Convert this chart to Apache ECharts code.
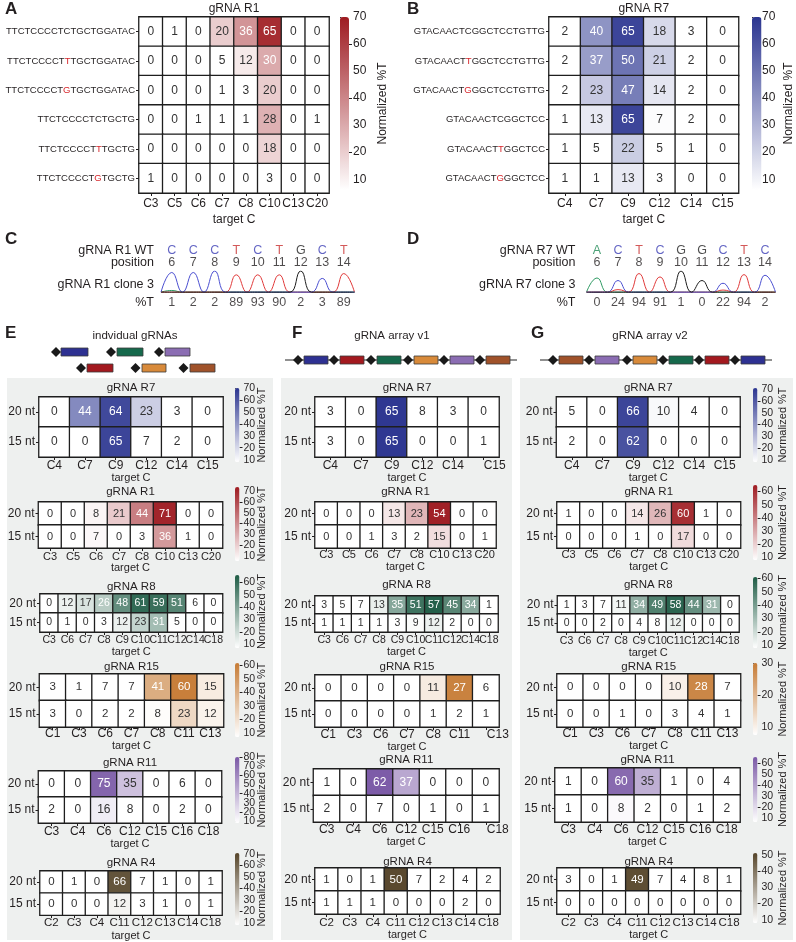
<!DOCTYPE html>
<html>
<head>
<meta charset="utf-8">
<title>gRNA editing heatmaps</title>
<script src="https://cdn.jsdelivr.net/npm/echarts@6.0.0/dist/echarts.min.js"></script>
<style>
html, body { margin: 0; padding: 0; background: #fff; }
#chart { width: 796px; height: 942px; }
</style>
</head>
<body>
<div id="chart"></div>
<script>
var FONT = '"Liberation Sans", Arial, Helvetica, sans-serif';
var INK = '#231f20';

// ---------- data ----------
var colsR1 = ['C3', 'C5', 'C6', 'C7', 'C8', 'C10', 'C13', 'C20'];
var colsR7 = ['C4', 'C7', 'C9', 'C12', 'C14', 'C15'];
var colsR8 = ['C3', 'C6', 'C7', 'C8', 'C9', 'C10', 'C11', 'C12', 'C14', 'C18'];
var colsR15 = ['C1', 'C3', 'C6', 'C7', 'C8', 'C11', 'C13'];
var colsR11 = ['C3', 'C4', 'C6', 'C12', 'C15', 'C16', 'C18'];
var colsR4 = ['C2', 'C3', 'C4', 'C11', 'C12', 'C13', 'C14', 'C18'];
var ntRows = ['20 nt', '15 nt'];

// [X] marks the mismatched base (drawn red)
var seqsR1 = ['TTCTCCCCTCTGCTGGATAC', 'TTCTCCCCT[T]TGCTGGATAC', 'TTCTCCCCT[G]TGCTGGATAC',
              'TTCTCCCCTCTGCTG', 'TTCTCCCCT[T]TGCTG', 'TTCTCCCCT[G]TGCTG'];
var valsA = [[0, 1, 0, 20, 36, 65, 0, 0], [0, 0, 0, 5, 12, 30, 0, 0], [0, 0, 0, 1, 3, 20, 0, 0],
             [0, 0, 1, 1, 1, 28, 0, 1], [0, 0, 0, 0, 0, 18, 0, 0], [1, 0, 0, 0, 0, 3, 0, 0]];
var seqsR7 = ['GTACAACTCGGCTCCTGTTG', 'GTACAACT[T]GGCTCCTGTTG', 'GTACAACT[G]GGCTCCTGTTG',
              'GTACAACTCGGCTCC', 'GTACAACT[T]GGCTCC', 'GTACAACT[G]GGCTCC'];
var valsB = [[2, 40, 65, 18, 3, 0], [2, 37, 50, 21, 2, 0], [2, 23, 47, 14, 2, 0],
             [1, 13, 65, 7, 2, 0], [1, 5, 22, 5, 1, 0], [1, 1, 13, 3, 0, 0]];

// Sanger traces (C, D)
var positions = [6, 7, 8, 9, 10, 11, 12, 13, 14];
var wtR1 = ['C', 'C', 'C', 'T', 'C', 'T', 'G', 'C', 'T'];
var pctR1 = [1, 2, 2, 89, 93, 90, 2, 3, 89];
var wtR7 = ['A', 'C', 'T', 'C', 'G', 'G', 'C', 'T', 'C'];
var pctR7 = [0, 24, 94, 91, 1, 0, 22, 94, 2];
var traceR1A = [0.08, 0, 0, 0, 0, 0, 0, 0, 0];
var traceR1C = [0.93, 0.93, 1.0, 0, 0, 0, 0, 0.65, 0];
var traceR1G = [0, 0, 0, 0, 0, 0, 1.0, 0, 0];
var traceR1T = [0, 0, 0, 0.82, 0.82, 0.82, 0, 0, 0.88];
var traceR7A = [0.67, 0, 0, 0, 0, 0, 0, 0, 0];
var traceR7C = [0, 0.55, 0, 0, 0, 0, 0.42, 0, 0.8];
var traceR7G = [0, 0, 0, 0, 1.0, 0.55, 0, 0, 0];
var traceR7T = [0, 0.12, 0.88, 0.72, 0, 0, 0.1, 0.83, 0];

// E: individual gRNAs
var eR7 = [[0, 44, 64, 23, 3, 0], [0, 0, 65, 7, 2, 0]];
var eR1 = [[0, 0, 8, 21, 44, 71, 0, 0], [0, 0, 7, 0, 3, 36, 1, 0]];
var eR8 = [[0, 12, 17, 26, 48, 61, 59, 51, 6, 0], [0, 1, 0, 3, 12, 23, 31, 5, 0, 0]];
var eR15 = [[3, 1, 7, 7, 41, 60, 15], [3, 0, 2, 2, 8, 23, 12]];
var eR11 = [[0, 0, 75, 35, 0, 6, 0], [2, 0, 16, 8, 0, 2, 0]];
var eR4 = [[0, 1, 0, 66, 7, 1, 0, 1], [0, 0, 0, 12, 3, 1, 0, 1]];
// F: array v1
var fR7 = [[3, 0, 65, 8, 3, 0], [3, 0, 65, 0, 0, 1]];
var fR1 = [[0, 0, 0, 13, 23, 54, 0, 0], [0, 0, 1, 3, 2, 15, 0, 1]];
var fR8 = [[3, 5, 7, 13, 35, 51, 57, 45, 34, 1], [1, 1, 1, 1, 3, 9, 12, 2, 0, 0]];
var fR15 = [[0, 0, 0, 0, 11, 27, 6], [0, 0, 0, 0, 1, 2, 1]];
var fR11 = [[1, 0, 62, 37, 0, 0, 0], [2, 0, 7, 0, 1, 0, 1]];
var fR4 = [[1, 0, 1, 50, 7, 2, 4, 2], [1, 1, 1, 0, 0, 0, 2, 0]];
// G: array v2
var gR7 = [[5, 0, 66, 10, 4, 0], [2, 0, 62, 0, 0, 0]];
var gR1 = [[1, 0, 0, 14, 26, 60, 1, 0], [0, 0, 0, 1, 0, 17, 0, 0]];
var gR8 = [[1, 3, 7, 11, 34, 49, 58, 44, 31, 0], [0, 0, 2, 0, 4, 8, 12, 0, 0, 0]];
var gR15 = [[0, 0, 0, 0, 10, 28, 7], [0, 0, 1, 0, 3, 4, 1]];
var gR11 = [[1, 0, 60, 35, 1, 0, 4], [1, 0, 8, 2, 0, 1, 2]];
var gR4 = [[3, 0, 1, 49, 7, 4, 8, 1], [0, 0, 0, 0, 0, 0, 0, 0]];

var ticks30 = [10, 20, 30];
var ticks50 = [10, 20, 30, 40, 50];
var ticks60 = [10, 20, 30, 40, 50, 60];
var ticks70 = [10, 20, 30, 40, 50, 60, 70];
var ticks80 = [10, 20, 30, 40, 50, 60, 70, 80];

// ---------- styling ----------
var COL = { R7: '#2b3590', R1: '#9e1b21', R8: '#1e5c45', R15: '#c67b35', R11: '#7b59a6', R4: '#56452a' };
var THR = { R7: 0.35, R1: 0.36, R8: 0.3, R15: 0.4, R11: 0.5, R4: 0.4 };
var BOX = { R7: '#2e3192', R1: '#a3191f', R8: '#16694c', R15: '#d88a3a', R11: '#8b6db3', R4: '#a0522a' };
var BASE = { A: '#2f9a63', C: '#4b4fd0', G: '#1c1c1c', T: '#e03a3a' };
var LETTER = { A: '#1f8a55', C: '#3c3fb5', G: '#222222', T: '#c8302f' };

var grids = [], xAxes = [], yAxes = [], series = [], visualMaps = [], graphics = [];

function txt(x, y, s, size, opt) {
    opt = opt || {};
    graphics.push({
        type: 'text', x: x, y: y, z: 10, silent: true,
        style: { text: s, font: (opt.bold ? 'bold ' : '') + size + 'px ' + FONT,
                 fill: opt.color || INK, textAlign: opt.align || 'center', textVerticalAlign: 'middle' }
    });
}

function seqLabel(v) {
    return v.replace(/\[(\w)\]/, '{r|$1}');
}

// colour-bar tick axis; labels split over two axes so tight ticks are not dropped
function barAxis(gi, o, b, ticks) {
    yAxes.push({
        type: 'value', gridIndex: gi, position: 'right', offset: 0, min: o.min, max: o.max,
        axisLine: { show: false }, splitLine: { show: false },
        axisTick: { show: true, inside: false, length: 3, customValues: ticks, lineStyle: { color: INK } },
        axisLabel: { customValues: ticks, fontSize: b.fs, color: INK, margin: 4, fontFamily: FONT }
    });
}

function heat(o) {
    var gi = grids.length, xi = xAxes.length, yi = yAxes.length;
    var last = o.cols.length - 1;
    grids.push({ left: o.x, top: o.y, width: o.w, height: o.h });
    xAxes.push({
        type: 'category', gridIndex: gi, data: o.cols,
        axisLine: { show: false }, splitLine: { show: false },
        axisTick: { show: true, length: 3, alignWithLabel: true, lineStyle: { color: INK } },
        axisLabel: { interval: 0, fontSize: o.xfs || 12, color: INK, margin: o.lm, fontFamily: FONT,
                     formatter: function (v, i) { return (o.shift && i === last) ? '{s|' + v + '}' : v; },
                     rich: { s: { padding: [0, 0, 0, 2 * (o.shift || 0)], fontSize: o.xfs || 12,
                                  color: INK, fontFamily: FONT } } },
        name: 'target C', nameLocation: 'middle', nameGap: o.ng,
        nameTextStyle: { fontSize: o.nfs || 11, color: INK, fontFamily: FONT }
    });
    yAxes.push({
        type: 'category', gridIndex: gi, data: o.rows, inverse: true,
        axisLine: { show: false }, splitLine: { show: false },
        axisTick: { show: true, length: 3, alignWithLabel: true, lineStyle: { color: INK } },
        axisLabel: { interval: 0, fontSize: o.yfs || 12, color: INK, margin: 4, fontFamily: FONT,
                     formatter: seqLabel,
                     rich: { r: { color: '#d7262b', fontSize: o.yfs || 12, fontFamily: FONT } } }
    });
    var data = [];
    o.vals.forEach(function (row, r) {
        row.forEach(function (v, c) {
            var t = (v - o.min) / (o.max - o.min);
            data.push({ value: [c, r, v], label: { color: t > o.thr ? '#ffffff' : '#333333' } });
        });
    });
    var si = series.length;
    series.push({
        type: 'heatmap', xAxisIndex: xi, yAxisIndex: yi, data: data, silent: true,
        label: { show: true, fontSize: o.cfs || 12, fontFamily: FONT,
                 formatter: function (p) { return p.value[2]; } },
        itemStyle: { borderColor: '#1e1e1e', borderWidth: 1.3 },
        emphasis: { disabled: true }
    });
    var vm = {
        type: 'continuous', seriesIndex: si, dimension: 2, min: o.min, max: o.max,
        inRange: { color: ['#ffffff', o.color] }, outOfRange: { color: ['#ffffff'] },
        calculable: false, hoverLink: false, show: false
    };
    if (o.bar) {
        var b = o.bar;
        vm.show = true; vm.left = b.x; vm.top = b.y;
        vm.itemWidth = b.w; vm.itemHeight = b.h; vm.padding = 0;
        var bi = grids.length;
        grids.push({ left: b.x, top: b.y, width: b.w, height: b.h });
        xAxes.push({ type: 'value', gridIndex: bi, show: false, min: 0, max: 1 });
        barAxis(bi, o, b, b.ticks.filter(function (t, i) { return i % 2 === 0; }));
        barAxis(bi, o, b, b.ticks.filter(function (t, i) { return i % 2 === 1; }));
        // title of the colour bar
        yAxes.push({
            type: 'value', gridIndex: bi, position: 'right', offset: 0, min: o.min, max: o.max,
            axisLine: { show: false }, splitLine: { show: false },
            axisTick: { show: false }, axisLabel: { show: false },
            name: 'Normalized %T', nameLocation: 'middle', nameRotate: 90, nameGap: b.ng,
            nameTextStyle: { fontSize: b.nfs, color: INK, fontFamily: FONT }
        });
    }
    visualMaps.push(vm);
    txt(o.x + o.w / 2, o.ty, o.title, o.tfs || 11.5);
}

function traceData(h) {
    var d = [];
    positions.forEach(function (p, i) {
        d.push([p - 0.5, 0], [p, h[i]], [p + 0.5, 0]);
    });
    return d;
}

// rows of the text grid (value axis, inverse): WT bases, positions, %T
var ROW_WT = 0.6, ROW_POS = 1.7, ROW_PCT = 5.3;

function chromPanel(o) {
    var gi = grids.length, xi = xAxes.length, yi = yAxes.length;
    grids.push({ left: o.x, top: 244, width: o.w, height: 66 });
    xAxes.push({ type: 'value', gridIndex: gi, min: 5.5, max: 14.5, show: false });
    yAxes.push({ type: 'value', gridIndex: gi, min: 0, max: 6, inverse: true, show: false });
    var rowData = [];
    positions.forEach(function (p, i) {
        rowData.push({ value: [p, ROW_WT], name: o.wt[i], label: { color: LETTER[o.wt[i]] } });
        rowData.push({ value: [p, ROW_POS], name: String(p) });
        rowData.push({ value: [p, ROW_PCT], name: String(o.pct[i]) });
    });
    series.push({
        type: 'scatter', xAxisIndex: xi, yAxisIndex: yi, symbolSize: 1, silent: true,
        itemStyle: { color: 'rgba(0,0,0,0)' }, data: rowData,
        label: { show: true, position: 'inside', fontSize: 12.5, color: INK, fontFamily: FONT,
                 formatter: function (p) { return p.name; } }
    });
    var ci = grids.length, cxi = xAxes.length, cyi = yAxes.length;
    grids.push({ left: o.x, top: 271, width: o.w, height: 22 });
    xAxes.push({ type: 'value', gridIndex: ci, min: 5.5, max: 14.5, show: false });
    yAxes.push({ type: 'value', gridIndex: ci, min: -0.04, max: 1.0, show: false });
    ['A', 'T', 'C', 'G'].forEach(function (base) {
        series.push({
            type: 'line', xAxisIndex: cxi, yAxisIndex: cyi, data: traceData(o.traces[base]),
            smooth: 0.5, symbol: 'none', silent: true, clip: true,
            lineStyle: { color: BASE[base], width: 1 }
        });
    });
    // row captions
    var rx = o.x - o.lm;
    txt(rx, 250.6, o.names[0], 12.5, { align: 'right' });
    txt(rx, 262.7, o.names[1], 12.5, { align: 'right' });
    txt(rx, 284.7, o.names[2], 12.5, { align: 'right' });
    txt(rx, 302.3, o.names[3], 12.5, { align: 'right' });
}

// ---------- backgrounds and schematics ----------
function bgRect(x, w) {
    graphics.push({ type: 'rect', z: -10, silent: true, shape: { x: x, y: 378, width: w, height: 562 },
                    style: { fill: '#eef0ef' } });
}
function diamond(cx, cy) {
    graphics.push({ type: 'polygon', z: 6, silent: true,
                    shape: { points: [[cx - 5, cy], [cx, cy - 5], [cx + 5, cy], [cx, cy + 5]] },
                    style: { fill: '#1a1a1a' } });
}
function box(x, cy, w, fill) {
    graphics.push({ type: 'rect', z: 5, silent: true, shape: { x: x, y: cy - 4, width: w, height: 8 },
                    style: { fill: fill, stroke: '#3a3a3a', lineWidth: 0.8 } });
}
function hline(x1, x2, y) {
    graphics.push({ type: 'line', z: 4, silent: true, shape: { x1: x1, y1: y, x2: x2, y2: y },
                    style: { stroke: '#222', lineWidth: 1 } });
}

bgRect(7, 266);
bgRect(281, 231);
bgRect(520, 273);

// individual gRNAs
[[56, 61, 27, 'R7', 352], [111, 117, 26, 'R8', 352], [159, 165, 25, 'R11', 352],
 [81, 87, 26, 'R1', 368], [135.5, 142, 24, 'R15', 368], [183.5, 190, 25, 'R4', 368]].forEach(function (d) {
    diamond(d[0], d[4]);
    box(d[1], d[4], d[2], BOX[d[3]]);
});
// array v1
hline(285, 517, 360);
var v1Order = ['R7', 'R1', 'R8', 'R15', 'R11', 'R4'];
[298, 334, 371, 408, 444, 480].forEach(function (x, i) {
    diamond(x, 360);
    box(x + 6, 360, 24, BOX[v1Order[i]]);
});
// array v2
hline(540, 772, 360);
var v2Order = ['R4', 'R11', 'R15', 'R8', 'R1', 'R7'];
[553, 589, 627, 663, 699, 735].forEach(function (x, i) {
    diamond(x, 360);
    box(x + 6, 360, 24, BOX[v2Order[i]]);
});

// panel letters and headings
txt(5, 9, 'A', 17, { bold: true, align: 'left' });
txt(407, 9, 'B', 17, { bold: true, align: 'left' });
txt(5, 239, 'C', 17, { bold: true, align: 'left' });
txt(407, 239, 'D', 17, { bold: true, align: 'left' });
txt(5, 333, 'E', 17, { bold: true, align: 'left' });
txt(292, 333, 'F', 17, { bold: true, align: 'left' });
txt(531, 333, 'G', 17, { bold: true, align: 'left' });
txt(135, 336, 'indvidual gRNAs', 11.5);
txt(392, 336, 'gRNA array v1', 11.5);
txt(650, 336, 'gRNA array v2', 11.5);

// ---------- panels ----------
heat({ x: 139, y: 17, w: 190, h: 176, cols: colsR1, rows: seqsR1, vals: valsA, color: COL.R1,
       min: 6, max: 70, thr: THR.R1, yfs: 9.5, xfs: 12, nfs: 12, cfs: 12, lm: 5, ng: 21,
       title: 'gRNA R1', ty: 9, tfs: 12,
       bar: { x: 340, y: 17, w: 9, h: 173, ticks: ticks70, fs: 12, ng: 28, nfs: 12 } });
heat({ x: 549, y: 17, w: 189.5, h: 176, cols: colsR7, rows: seqsR7, vals: valsB, color: COL.R7,
       min: 6, max: 70, thr: THR.R7, yfs: 9.5, xfs: 12, nfs: 12, cfs: 12, lm: 5, ng: 21,
       title: 'gRNA R7', ty: 9, tfs: 12,
       bar: { x: 752, y: 17, w: 9.5, h: 173, ticks: ticks70, fs: 12, ng: 25, nfs: 12 } });

chromPanel({ x: 161, w: 193.5, lm: 7, wt: wtR1, pct: pctR1,
             names: ['gRNA R1 WT', 'position', 'gRNA R1 clone 3', '%T'],
             traces: { A: traceR1A, C: traceR1C, G: traceR1G, T: traceR1T } });
chromPanel({ x: 586.5, w: 189, lm: 11, wt: wtR7, pct: pctR7,
             names: ['gRNA R7 WT', 'position', 'gRNA R7 clone 3', '%T'],
             traces: { A: traceR7A, C: traceR7C, G: traceR7G, T: traceR7T } });

function barE(y, h, ticks) { return { x: 235, y: y, w: 4.5, h: h, ticks: ticks, fs: 10.5, ng: 17, nfs: 11 }; }
function barG(y, h, ticks) { return { x: 753, y: y, w: 4.5, h: h, ticks: ticks, fs: 10.5, ng: 20, nfs: 11 }; }

// E
heat({ x: 39, y: 397, w: 184, h: 60, cols: colsR7, rows: ntRows, vals: eR7, color: COL.R7, min: 8, max: 70,
       thr: THR.R7, cfs: 12, xfs: 12, lm: 3, ng: 12.5, title: 'gRNA R7', ty: 388, bar: barE(388, 74, ticks70) });
heat({ x: 38.5, y: 502, w: 184, h: 46, cols: colsR1, rows: ntRows, vals: eR1, color: COL.R1, min: 5, max: 74,
       thr: THR.R1, cfs: 11, xfs: 11, lm: 3, ng: 11, title: 'gRNA R1', ty: 492, bar: barE(487, 74, ticks70) });
heat({ x: 40, y: 594, w: 182.5, h: 38, cols: colsR8, rows: ntRows, vals: eR8, color: COL.R8, min: 7, max: 66,
       thr: THR.R8, cfs: 10.5, xfs: 10.5, lm: 2.5, ng: 10.5, title: 'gRNA R8', ty: 587, bar: barE(575, 73, ticks60) });
heat({ x: 39.5, y: 674, w: 184, h: 53, cols: colsR15, rows: ntRows, vals: eR15, color: COL.R15, min: 7, max: 61.5,
       thr: THR.R15, cfs: 11.5, xfs: 12, lm: 1, ng: 10.5, title: 'gRNA R15', ty: 667, bar: barE(663, 74, ticks60) });
heat({ x: 38.5, y: 771, w: 183, h: 52, cols: colsR11, rows: ntRows, vals: eR11, color: COL.R11, min: 8, max: 80,
       thr: THR.R11, cfs: 12, xfs: 12, lm: 3, ng: 11.5, title: 'gRNA R11', ty: 763, bar: barE(757, 66, ticks80) });
heat({ x: 40, y: 871, w: 182, h: 47, cols: colsR4, rows: ntRows, vals: eR4, color: COL.R4, min: 8, max: 71,
       thr: THR.R4, cfs: 11.5, xfs: 11.5, lm: 2, ng: 9.5, title: 'gRNA R4', ty: 863, bar: barE(853, 72, ticks70) });

// F
heat({ x: 315, y: 397, w: 184, h: 60, cols: colsR7, rows: ntRows, vals: fR7, color: COL.R7, min: 8, max: 66,
       thr: THR.R7, cfs: 12, xfs: 12, lm: 3, ng: 12.5, title: 'gRNA R7', ty: 388, shift: 11 });
heat({ x: 315, y: 502, w: 181, h: 46, cols: colsR1, rows: ntRows, vals: fR1, color: COL.R1, min: 8, max: 55,
       thr: THR.R1, cfs: 11, xfs: 11, lm: 1.5, ng: 11.5, title: 'gRNA R1', ty: 492 });
heat({ x: 315, y: 596, w: 183, h: 36, cols: colsR8, rows: ntRows, vals: fR8, color: COL.R8, min: 8, max: 58,
       thr: THR.R8, cfs: 10.5, xfs: 10.5, lm: 2.5, ng: 11.5, title: 'gRNA R8', ty: 585 });
heat({ x: 315, y: 675, w: 184, h: 52, cols: colsR15, rows: ntRows, vals: fR15, color: COL.R15, min: 8, max: 28,
       thr: THR.R15, cfs: 11.5, xfs: 12, lm: 2, ng: 10.5, title: 'gRNA R15', ty: 667, shift: 12 });
heat({ x: 313.5, y: 769, w: 185.5, h: 53, cols: colsR11, rows: ntRows, vals: fR11, color: COL.R11, min: 8, max: 63,
       thr: THR.R11, cfs: 12, xfs: 12, lm: 2, ng: 10.5, title: 'gRNA R11', ty: 760, shift: 12 });
heat({ x: 315, y: 868, w: 185, h: 46, cols: colsR4, rows: ntRows, vals: fR4, color: COL.R4, min: 8, max: 51,
       thr: THR.R4, cfs: 11.5, xfs: 11.5, lm: 3, ng: 12.5, title: 'gRNA R4', ty: 862 });

// G
heat({ x: 556.5, y: 397, w: 183.5, h: 60, cols: colsR7, rows: ntRows, vals: gR7, color: COL.R7, min: 8, max: 71,
       thr: THR.R7, cfs: 12, xfs: 12, lm: 3, ng: 12.5, title: 'gRNA R7', ty: 388, bar: barG(388, 74, ticks70) });
heat({ x: 557, y: 502, w: 183.5, h: 46, cols: colsR1, rows: ntRows, vals: gR1, color: COL.R1, min: 8, max: 65,
       thr: THR.R1, cfs: 11, xfs: 11, lm: 1.5, ng: 10, title: 'gRNA R1', ty: 492, bar: barG(485, 75, ticks60) });
heat({ x: 557.5, y: 596, w: 181.5, h: 36, cols: colsR8, rows: ntRows, vals: gR8, color: COL.R8, min: 8, max: 61,
       thr: THR.R8, cfs: 10.5, xfs: 10.5, lm: 3.5, ng: 11.5, title: 'gRNA R8', ty: 585, bar: barG(577, 71, ticks60) });
heat({ x: 557, y: 674, w: 183.5, h: 53, cols: colsR15, rows: ntRows, vals: gR15, color: COL.R15, min: 7.5, max: 30,
       thr: THR.R15, cfs: 11.5, xfs: 12, lm: 1, ng: 10.5, title: 'gRNA R15', ty: 667, bar: barG(663, 72, ticks30) });
heat({ x: 555, y: 768, w: 185, h: 54, cols: colsR11, rows: ntRows, vals: gR11, color: COL.R11, min: 6, max: 66,
       thr: THR.R11, cfs: 12, xfs: 12, lm: 2, ng: 11.5, title: 'gRNA R11', ty: 760, bar: barG(757, 65, ticks60) });
heat({ x: 557, y: 868, w: 183.5, h: 46, cols: colsR4, rows: ntRows, vals: gR4, color: COL.R4, min: 8, max: 51,
       thr: THR.R4, cfs: 11.5, xfs: 11.5, lm: 3, ng: 12.5, title: 'gRNA R4', ty: 862, bar: barG(853, 70, ticks50) });

var chart = echarts.init(document.getElementById('chart'));
chart.setOption({
    animation: false,
    textStyle: { fontFamily: FONT },
    grid: grids,
    xAxis: xAxes,
    yAxis: yAxes,
    visualMap: visualMaps,
    series: series,
    graphic: { elements: graphics }
});
</script>
</body>
</html>
